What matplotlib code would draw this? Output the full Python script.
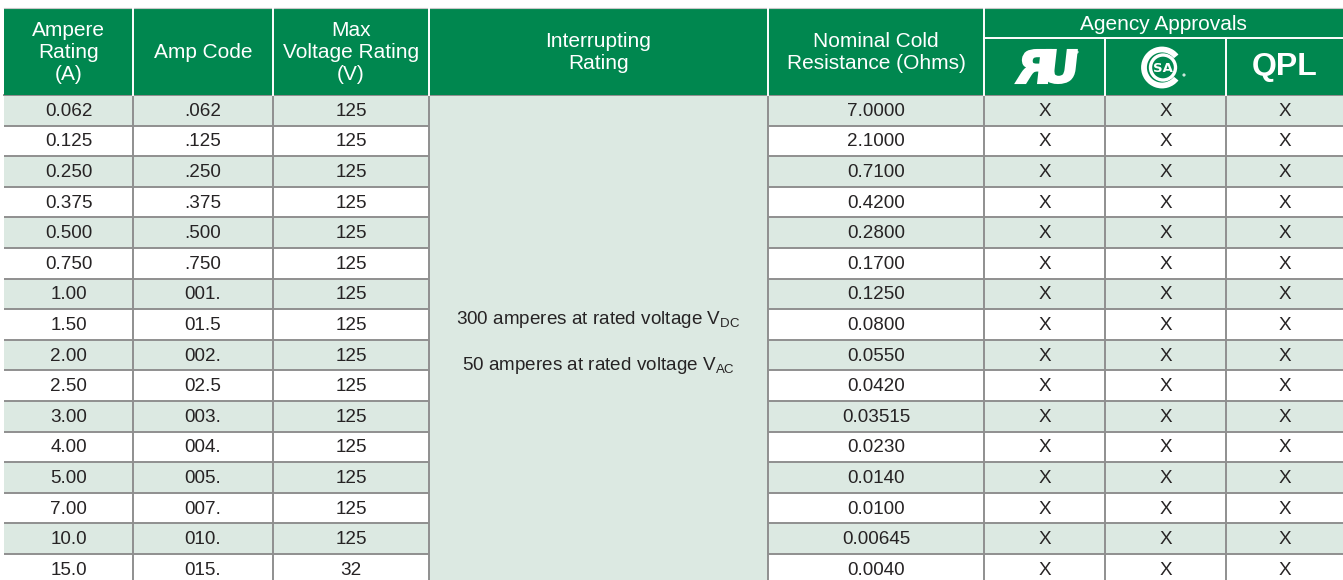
"""Fuse rating table: ampere ratings, codes, voltage, resistance and agency approvals."""

import matplotlib
matplotlib.use("Agg")
import matplotlib.pyplot as plt
from matplotlib.patches import Rectangle, Arc, Circle, PathPatch
from matplotlib.textpath import TextPath
from matplotlib.font_manager import FontProperties
from matplotlib.transforms import Affine2D

# ---- data -------------------------------------------------------------
amp_rating = ["0.062", "0.125", "0.250", "0.375", "0.500", "0.750", "1.00", "1.50",
              "2.00", "2.50", "3.00", "4.00", "5.00", "7.00", "10.0", "15.0"]
amp_code = [".062", ".125", ".250", ".375", ".500", ".750", "001.", "01.5",
            "002.", "02.5", "003.", "004.", "005.", "007.", "010.", "015."]
max_voltage = ["125", "125", "125", "125", "125", "125", "125", "125",
               "125", "125", "125", "125", "125", "125", "125", "32"]
cold_resistance = ["7.0000", "2.1000", "0.7100", "0.4200", "0.2800", "0.1700", "0.1250", "0.0800",
                   "0.0550", "0.0420", "0.03515", "0.0230", "0.0140", "0.0100", "0.00645", "0.0040"]
ul_approved = ["X"] * 16
csa_approved = ["X"] * 16
qpl_approved = ["X"] * 16
interrupting = ["300 amperes at rated voltage $\\mathregular{V_{DC}}$",
                "50 amperes at rated voltage $\\mathregular{V_{AC}}$"]
headers = ["Ampere\nRating\n(A)", "Amp Code", "Max\nVoltage Rating\n(V)",
           "Interrupting\nRating", "Nominal Cold\nResistance (Ohms)"]

# ---- layout (pixels) ----------------------------------------------------
W, H = 1343, 580
COL_EDGES = [4, 133, 273, 429, 768, 984, 1105, 1226, 1343]
HEAD_TOP, HEAD_SPLIT, HEAD_BOT = 8, 38, 95
ROW_H = 30.6

GREEN = "#00874f"
LIGHT = "#dce9e2"
GRID = "#8f8f8f"
INK = "#262324"
FONT = ["Liberation Sans", "DejaVu Sans"]
BODY_FS = 13.6
HEAD_FS = 15

plt.rcParams["font.family"] = FONT
plt.rcParams["mathtext.fontset"] = "custom"
plt.rcParams["mathtext.rm"] = "Liberation Sans"
fig = plt.figure(figsize=(W / 100, H / 100), dpi=100)
ax = fig.add_axes([0, 0, 1, 1])
ax.set_xlim(0, W)
ax.set_ylim(H, 0)
ax.axis("off")

n = len(amp_rating)
body_cols = [amp_rating, amp_code, max_voltage, None, cold_resistance,
             ul_approved, csa_approved, qpl_approved]
x0, x1 = COL_EDGES[0], COL_EDGES[-1]

# row fills
for i in range(n):
    top = HEAD_BOT + i * ROW_H
    if i % 2 == 0:
        ax.add_patch(Rectangle((x0, top), x1 - x0, ROW_H, color=LIGHT, lw=0, zorder=1))
# merged interrupting cell
ax.add_patch(Rectangle((COL_EDGES[3], HEAD_BOT), COL_EDGES[4] - COL_EDGES[3],
                       H - HEAD_BOT, color=LIGHT, lw=0, zorder=1.5))

# body text
for c, vals in enumerate(body_cols):
    if vals is None:
        continue
    cx = (COL_EDGES[c] + COL_EDGES[c + 1]) / 2
    for i, v in enumerate(vals):
        cy = HEAD_BOT + (i + 0.5) * ROW_H + 1
        ax.text(cx, cy, v, ha="center", va="center", fontsize=BODY_FS,
                color=INK, zorder=3)

mid_x = (COL_EDGES[3] + COL_EDGES[4]) / 2
for k, line in enumerate(interrupting):
    ax.text(mid_x, 319 + k * 47, line, ha="center", va="center", fontsize=BODY_FS,
            color=INK, zorder=3)

# body grid
for i in range(n + 1):
    y = HEAD_BOT + i * ROW_H
    ax.plot([x0, COL_EDGES[3]], [y, y], color=GRID, lw=1.4, zorder=2,
            solid_capstyle="butt")
    ax.plot([COL_EDGES[4], x1], [y, y], color=GRID, lw=1.4, zorder=2,
            solid_capstyle="butt")
ax.plot([x0, x1], [HEAD_BOT, HEAD_BOT], color=GRID, lw=1.4, zorder=2)
for xe in COL_EDGES[1:-1]:
    ax.plot([xe, xe], [HEAD_BOT, H], color=GRID, lw=1.4, zorder=2)

# header
ax.add_patch(Rectangle((x0, HEAD_TOP), x1 - x0, HEAD_BOT - HEAD_TOP,
                       color=GREEN, lw=0, zorder=4))
ax.plot([x0, x1], [HEAD_TOP, HEAD_TOP], color="#c8c8c8", lw=0.8, zorder=5)
for c, label in enumerate(headers):
    cx = (COL_EDGES[c] + COL_EDGES[c + 1]) / 2
    ax.text(cx, (HEAD_TOP + HEAD_BOT) / 2 + 1, label, ha="center", va="center",
            fontsize=HEAD_FS, color="white", linespacing=1.18, zorder=6)
for xe in COL_EDGES[1:6]:
    ax.plot([xe, xe], [HEAD_TOP, HEAD_BOT], color="white", lw=1.4, zorder=5)
for xe in COL_EDGES[6:8]:
    ax.plot([xe, xe], [HEAD_SPLIT, HEAD_BOT], color="white", lw=1.4, zorder=5)
ax.plot([COL_EDGES[5], x1], [HEAD_SPLIT, HEAD_SPLIT], color="white", lw=1.4, zorder=5)
ax.text((COL_EDGES[5] + x1) / 2, (HEAD_TOP + HEAD_SPLIT) / 2 + 1, "Agency Approvals",
        ha="center", va="center", fontsize=HEAD_FS, color="white", zorder=6)

logo_y = (HEAD_SPLIT + HEAD_BOT) / 2


def fit_path(path, bx0, bx1, by0, by1, mirror=False, skew=0.0):
    """Scale a y-up path into a screen box (y grows down)."""
    ext = path.get_extents()
    sx = (bx1 - bx0) / ext.width
    sy = (by1 - by0) / ext.height
    t = Affine2D().translate(-ext.x0, -ext.y0).skew_deg(skew, 0)
    if mirror:
        t = t.scale(-sx, -sy).translate(bx1, by1)
    else:
        t = t.scale(sx, -sy).translate(bx0, by1)
    return t.transform_path(path)


bold = FontProperties(family="DejaVu Sans", weight="bold")
r_path = fit_path(TextPath((0, 0), "R", size=10, prop=bold), 1016, 1047, 50, 83,
                  mirror=True, skew=-6)
u_path = fit_path(TextPath((0, 0), "U", size=10, prop=bold), 1043, 1073, 50, 83,
                  skew=6)
for p in (r_path, u_path):
    ax.add_patch(PathPatch(p, fc="white", ec="white", lw=1.5, zorder=6))
ax.add_patch(Circle((1077, 52), 1.6, color="white", alpha=0.8, lw=0, zorder=6))

# CSA mark
csa_x = 1162
ax.add_patch(Arc((csa_x, logo_y + 1), 36, 36, theta1=38, theta2=322,
                 color="white", lw=4.2, zorder=6))
ax.add_patch(Circle((csa_x + 1, logo_y + 1), 12.5, fill=False, ec="white", lw=2.4, zorder=6))
ax.text(csa_x + 1, logo_y + 1.5, "SA", ha="center", va="center", fontsize=9.5,
        fontweight="bold", color="white", family="DejaVu Sans", zorder=6)
ax.add_patch(Circle((1184, 75), 1.6, color="white", alpha=0.8, lw=0, zorder=6))

ax.text((COL_EDGES[7] + COL_EDGES[8]) / 2, logo_y + 1, "QPL", ha="center", va="center",
        fontsize=23, fontweight="bold", color="white", zorder=6)

fig.savefig("out.png", dpi=100)
